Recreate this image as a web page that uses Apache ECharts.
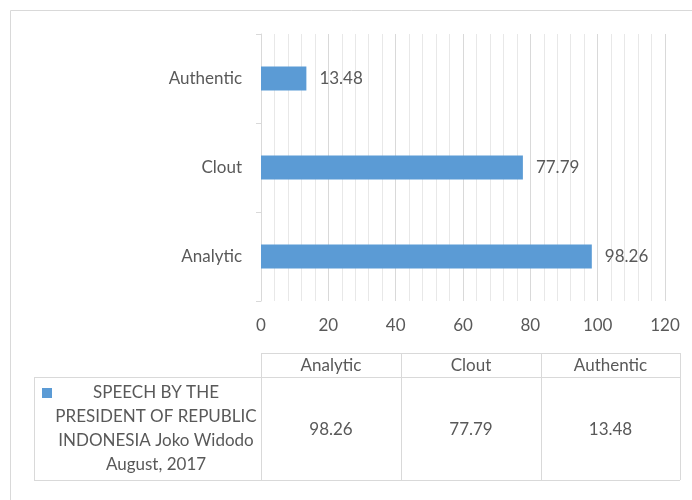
<!DOCTYPE html>
<html><head><meta charset="utf-8">
<script src="https://cdn.jsdelivr.net/npm/echarts@6/dist/echarts.min.js"></script>
<style>html,body{margin:0;padding:0;background:#fff}#c{width:692px;height:500px}</style>
</head><body><div id="c"></div>
<script>
var categories = ['Analytic', 'Clout', 'Authentic'];
var values = [98.26, 77.79, 13.48];
var seriesName = 'SPEECH BY THE\nPRESIDENT OF REPUBLIC\nINDONESIA Joko Widodo\nAugust, 2017';
var xTicks = [0, 20, 40, 60, 80, 100, 120];

var FONT = 'Lato';
var TXT = '#595959';
var LINE = '#d9d9d9';
var BAR = '#5b9bd5';

var chart = echarts.init(document.getElementById('c'));

// table geometry
var colX = [261, 401, 541, 680];
var headTop = 353, headBot = 377, bodyBot = 480, bodyLeft = 34;
var g = [];
// outer frame (left & top)
g.push({type:'line', shape:{x1:10.5,y1:10.5,x2:692,y2:10.5}, style:{stroke:LINE,lineWidth:1}});
g.push({type:'line', shape:{x1:10.5,y1:10.5,x2:10.5,y2:500}, style:{stroke:LINE,lineWidth:1}});
// table lines
g.push({type:'line', shape:{x1:colX[0],y1:headTop+0.5,x2:colX[3],y2:headTop+0.5}, style:{stroke:LINE}});
g.push({type:'line', shape:{x1:bodyLeft,y1:headBot+0.5,x2:colX[3],y2:headBot+0.5}, style:{stroke:LINE}});
g.push({type:'line', shape:{x1:bodyLeft,y1:bodyBot+0.5,x2:colX[3],y2:bodyBot+0.5}, style:{stroke:LINE}});
g.push({type:'line', shape:{x1:bodyLeft+0.5,y1:headBot,x2:bodyLeft+0.5,y2:bodyBot}, style:{stroke:LINE}});
colX.forEach(function(x){
  g.push({type:'line', shape:{x1:x+0.5,y1:headTop,x2:x+0.5,y2:bodyBot}, style:{stroke:LINE}});
});
categories.forEach(function(c,i){
  var cx = (colX[i]+colX[i+1])/2;
  g.push({type:'text', x:cx, y:(headTop+headBot)/2+1, style:{text:c, fill:TXT, font:'17px '+FONT, align:'center', verticalAlign:'middle'}});
  g.push({type:'text', x:cx, y:430, style:{text:String(values[i]), fill:TXT, font:'17px '+FONT, align:'center', verticalAlign:'middle'}});
});
g.push({type:'rect', shape:{x:42,y:388,width:10,height:10}, style:{fill:BAR}});
g.push({type:'text', x:156, y:381, style:{text:seriesName, fill:TXT, font:'17px '+FONT, align:'center', verticalAlign:'top', lineHeight:24}});

chart.setOption({
  animation:false,
  textStyle:{fontFamily:FONT},
  grid:{left:261, right:27, top:34, bottom:199, containLabel:false},
  xAxis:{
    type:'value', min:0, max:120, interval:20,
    axisLine:{show:false}, axisTick:{show:false},
    axisLabel:{color:TXT, fontSize:17, fontFamily:FONT, margin:16},
    splitLine:{show:true, lineStyle:{color:LINE, width:1}},
    minorTick:{show:false, splitNumber:5},
    minorSplitLine:{show:true, lineStyle:{color:'#e8e8e8', width:1}}
  },
  yAxis:{
    type:'category', data:categories,
    axisLine:{show:true, lineStyle:{color:LINE}},
    axisTick:{show:true, length:5, lineStyle:{color:LINE}},
    axisLabel:{color:TXT, fontSize:17, fontFamily:FONT, margin:19},
    splitLine:{show:false}
  },
  series:[{
    type:'bar', name:'speech', data:values, barWidth:24,
    itemStyle:{color:BAR},
    label:{show:true, position:'right', distance:13, color:TXT, fontSize:17, fontFamily:FONT}
  }],
  graphic:g
});
</script></body></html>
